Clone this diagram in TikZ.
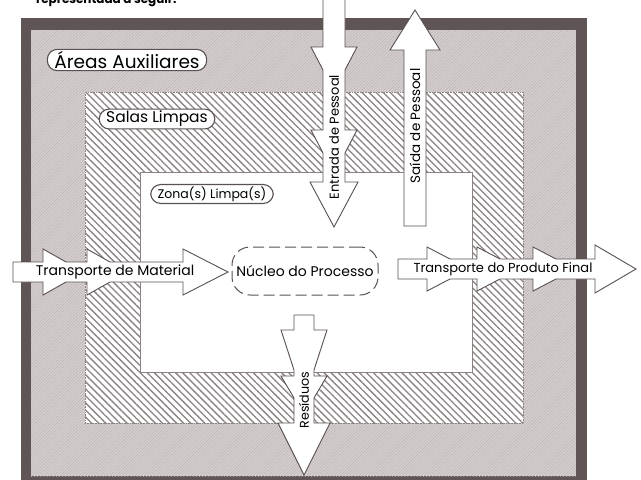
\documentclass[tikz,border=0pt]{standalone}
\usepackage{fontspec}
\setmainfont{Poppins}
\usetikzlibrary{patterns.meta}
\definecolor{framec}{RGB}{95,85,85}
\definecolor{auxgrey}{RGB}{212,206,206}
\definecolor{auxtex}{RGB}{188,180,180}
\definecolor{hatchc}{RGB}{140,130,130}
\definecolor{outl}{RGB}{90,80,80}
\begin{document}
\begin{tikzpicture}[x=1pt,y=-1pt,
  arrowshape/.style={fill=white,draw=outl,line width=0.9pt,line join=miter},
  zonelabel/.style={draw=outl,fill=white,line width=1.1pt,rounded corners=10pt,inner xsep=7pt,inner ysep=2pt},
  arrowtext/.style={text=black,inner sep=0pt}]
\useasboundingbox (0,0) rectangle (641,480);
% cut-off caption at top
\node[anchor=base west,font=\bfseries\fontsize{12}{14}\selectfont,inner sep=0pt] (cap) at (36,3) {representada a seguir.};
% outer frame
\fill[framec] (21,18) rectangle (587,482);
\fill[auxgrey] (31,30) rectangle (576,476);
\fill[pattern={Lines[angle=45,distance=2.2pt,line width=0.4pt]},pattern color=auxtex] (31,30) rectangle (576,476);
% salas limpas
\fill[white] (85,92) rectangle (523,423);
\fill[pattern={Lines[angle=-45,distance=5pt,line width=1.3pt]},pattern color=hatchc] (85,92) rectangle (523,423);
\draw[hatchc,line width=0.6pt,densely dotted] (85,92) rectangle (523,423);
% zona limpa
\fill[white] (140,172) rectangle (472,372);
\draw[hatchc,line width=0.6pt] (140,172) rectangle (472,372);
% labels
\node[zonelabel,font=\fontsize{18.5}{20}\selectfont] (aux) at (127,60) {Áreas Auxiliares};
\node[zonelabel,font=\fontsize{15.5}{17}\selectfont] (salas) at (157,119) {Salas Limpas};
\node[zonelabel,font=\fontsize{12.5}{14}\selectfont] (zona) at (212,194) {Zona(s) Limpa(s)};
\node[draw=outl,line width=1pt,dash pattern=on 11pt off 5pt,rounded corners=18pt,minimum width=146pt,minimum height=48pt,font=\fontsize{14}{15}\selectfont,fill=white,inner sep=0pt] (nucleo) at (305,271) {Núcleo do Processo};
% Entrada de Pessoal
\draw[arrowshape] (323,-2) -- (345,-2) -- (345,47) -- (357,47) -- (345,70) -- (345,130) -- (357,130) -- (345,153) -- (345,182) -- (358,182) -- (334,227) -- (310,182) -- (323,182) -- (323,153) -- (311,130) -- (323,130) -- (323,70) -- (311,47) -- (323,47) -- cycle;
\node[arrowtext,rotate=90,font=\fontsize{13}{14}\selectfont] (entrada) at (334,137) {Entrada de Pessoal};
% Saida de Pessoal
\draw[arrowshape] (404,226) -- (404,50) -- (390,50) -- (415,10) -- (440,50) -- (426,50) -- (426,226) -- cycle;
\node[arrowtext,rotate=90,font=\fontsize{13.5}{15}\selectfont] (saida) at (415,126) {Saída de Pessoal};
% Transporte de Material
\draw[arrowshape] (13,262) -- (43,262) -- (43,249) -- (66,262) -- (87,262) -- (87,249) -- (110,262) -- (183,262) -- (183,249) -- (228,272) -- (183,295) -- (183,282) -- (110,282) -- (87,295) -- (87,282) -- (66,282) -- (43,295) -- (43,282) -- (13,282) -- cycle;
\node[arrowtext,font=\fontsize{14}{15}\selectfont] (material) at (115,272) {Transporte de Material};
% Transporte do Produto Final
\draw[arrowshape] (398,259) -- (427,259) -- (427,247) -- (450,259) -- (477,259) -- (477,247) -- (500,259) -- (533,259) -- (533,247) -- (556,259) -- (595,259) -- (595,245) -- (636,269) -- (595,293) -- (595,279) -- (556,279) -- (533,291) -- (533,279) -- (500,279) -- (477,291) -- (477,279) -- (450,279) -- (427,291) -- (427,279) -- (398,279) -- cycle;
\node[arrowtext,font=\fontsize{13}{14}\selectfont] (produto) at (503,269) {Transporte do Produto Final};
% Residuos
\draw[arrowshape] (294,315) -- (314,315) -- (314,330) -- (327,330) -- (314,370) -- (314,376) -- (327,376) -- (314,398) -- (314,423) -- (330,423) -- (304,475) -- (278,423) -- (294,423) -- (294,398) -- (281,376) -- (294,376) -- (294,370) -- (281,330) -- (294,330) -- cycle;
\node[arrowtext,rotate=90,font=\fontsize{12.7}{14}\selectfont] (residuos) at (304,400) {Resíduos};
\end{tikzpicture}
\end{document}
